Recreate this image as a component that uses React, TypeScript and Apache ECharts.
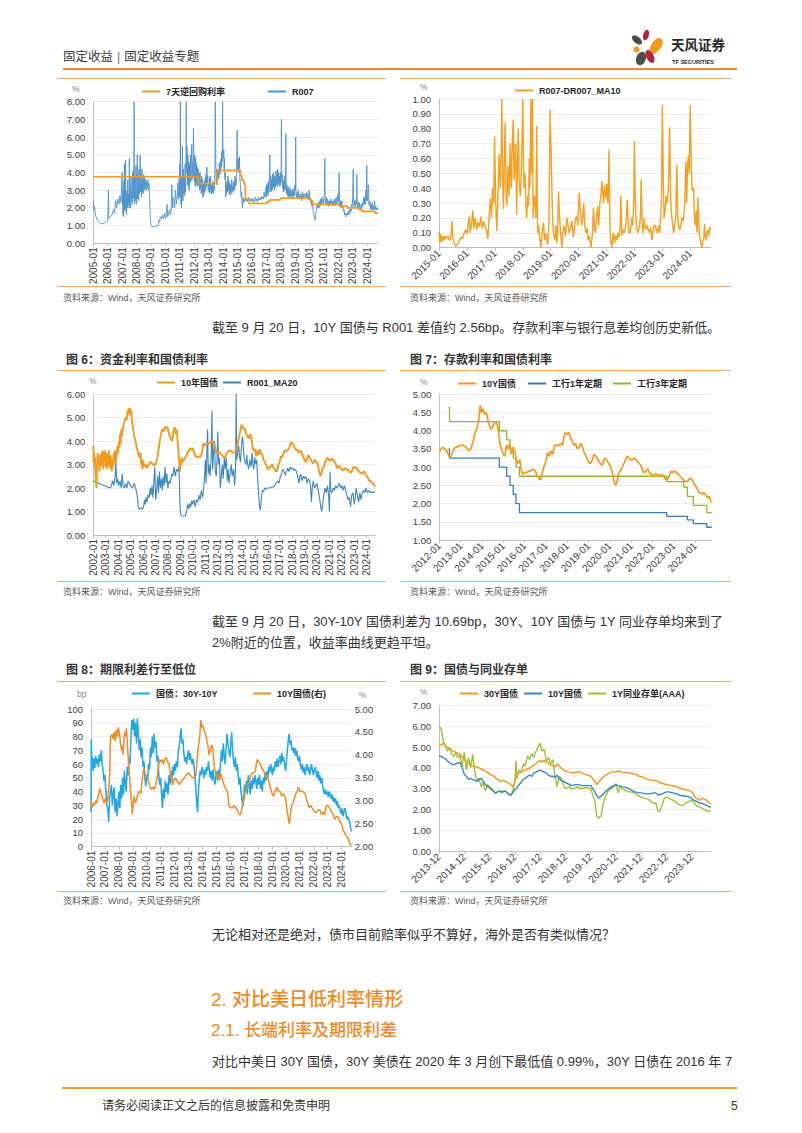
import React, { useEffect, useRef } from "react";
import * as echarts from "echarts";

const FONT = "'Liberation Sans', Arial, 'Noto Sans CJK SC', sans-serif";
const ORANGE = "#F39A1E";
const LINE_ORANGE = "#F2A460";

// ---------------- tick labels ----------------
const years = (a: number, b: number) => { const r: number[] = []; for (let y = a; y <= b; y++) r.push(y); return r; };
const YEARS_05 = years(2005, 2024);
const YEARS_15 = years(2015, 2024);
const YEARS_02 = years(2002, 2024);
const YEARS_12 = years(2012, 2024);
const YEARS_06 = years(2006, 2024);
const MONTHS_9 = [0, 12, 24, 36, 48, 60, 72, 84, 96, 108, 120]; // months since 2013-12

// ---------------- chart 1 ----------------
const revRepo7d = [[2005.0,3.76],[2012.3,3.37],[2013.6,4.12],[2015.2,3.85],[2015.3,3.55],[2015.45,3.35],[2015.55,2.5],[2015.8,2.25],[2017.07,2.35],[2017.25,2.45],[2018.0,2.55],[2019.9,2.5],[2020.1,2.4],[2020.22,2.2],[2022.05,2.1],[2022.62,2.0],[2023.45,1.9],[2023.65,1.8],[2024.55,1.7],[2024.75,1.7]];
const r007 = [[2005.0,2.4],[2005.03,1.9],[2005.08,2.1],[2005.15,1.6],[2005.25,1.35],[2005.35,1.25],[2005.45,1.15],[2005.6,1.1],[2005.75,1.15],[2005.9,1.2],[2006.0,1.25],[2006.05,3.0],[2006.08,1.4],[2006.18,1.5],[2006.3,1.6],[2006.4,1.9],[2006.48,1.7],[2006.55,2.4],[2006.62,2.0],[2006.7,2.5],[2006.78,2.2],[2006.85,2.7],[2006.92,2.3],
[2007.0,4.0],[2007.02,2.2],[2007.04,3.0],[2007.06,1.6],[2007.08,2.8],[2007.1,1.5],[2007.12,3.5],[2007.14,2.0],[2007.16,4.5],[2007.18,1.8],[2007.2,3.2],[2007.22,2.2],[2007.24,4.7],[2007.26,1.9],[2007.28,2.8],[2007.3,1.6],[2007.33,3.0],[2007.36,2.0],[2007.39,3.6],[2007.42,2.3],[2007.45,2.8],[2007.48,2.0],[2007.5,4.8],[2007.52,2.1],[2007.55,3.2],[2007.58,2.0],[2007.61,3.8],[2007.64,2.4],[2007.67,3.0],[2007.7,2.2],[2007.73,4.0],[2007.76,2.5],[2007.79,4.2],[2007.81,2.6],[2007.83,8.0],[2007.85,3.0],[2007.87,2.2],[2007.9,3.8],[2007.93,2.4],[2007.96,4.4],[2008.0,2.2],[2008.03,3.5],[2008.05,5.0],[2008.08,2.5],[2008.11,3.8],[2008.14,2.4],[2008.17,4.2],[2008.2,2.8],[2008.23,3.5],[2008.25,5.0],[2008.28,2.9],[2008.31,3.8],[2008.34,2.6],[2008.37,4.2],[2008.4,2.9],[2008.43,3.6],[2008.46,2.8],[2008.5,3.9],[2008.53,3.0],[2008.56,3.7],[2008.6,3.1],[2008.63,3.6],[2008.66,3.0],[2008.7,3.5],[2008.74,3.1],[2008.78,3.6],[2008.82,3.0],[2008.86,3.4],[2008.9,2.6],[2008.93,2.0],[2008.96,1.4],[2009.0,1.05],
[2009.05,0.95],[2009.15,0.95],[2009.25,0.93],[2009.4,0.98],[2009.5,1.0],[2009.55,1.3],[2009.6,1.2],[2009.65,1.5],[2009.72,1.4],[2009.8,1.6],[2009.85,1.4],[2009.88,1.5],[2009.95,1.7],[2010.0,1.4],[2010.05,1.5],[2010.12,2.2],[2010.16,1.5],[2010.2,1.6],[2010.25,1.8],[2010.3,1.9],[2010.34,1.6],[2010.38,1.7],[2010.42,2.4],[2010.45,3.3],[2010.48,2.2],[2010.5,2.0],[2010.54,2.6],[2010.58,2.5],[2010.62,2.0],[2010.65,2.1],[2010.69,3.0],[2010.72,2.8],[2010.76,2.2],[2010.8,2.4],[2010.84,3.0],[2010.87,3.4],[2010.9,2.5],
[2010.92,2.8],[2010.95,3.6],[2010.98,2.6],[2011.0,4.5],[2011.02,3.0],[2011.04,8.0],[2011.06,3.5],[2011.08,2.2],[2011.1,3.4],[2011.12,2.0],[2011.14,3.8],[2011.16,2.6],[2011.18,5.5],[2011.2,3.0],[2011.22,2.4],[2011.25,4.2],[2011.28,2.8],[2011.31,3.8],[2011.34,2.7],[2011.37,4.5],[2011.4,2.9],[2011.43,5.2],[2011.45,8.0],[2011.47,4.0],[2011.5,5.5],[2011.53,3.3],[2011.56,5.0],[2011.59,3.2],[2011.62,4.6],[2011.65,3.0],[2011.68,4.5],[2011.71,3.4],[2011.74,5.0],[2011.77,3.5],[2011.8,4.5],[2011.83,5.6],[2011.86,3.6],[2011.89,4.6],[2011.92,3.8],[2011.95,6.5],[2011.98,4.2],[2012.01,3.5],[2012.04,5.0],[2012.07,3.2],[2012.1,4.8],[2012.13,3.3],[2012.16,4.5],[2012.19,3.4],[2012.22,4.3],[2012.25,3.2],[2012.28,4.2],[2012.31,3.3],[2012.34,3.9],[2012.37,3.0],[2012.4,4.0],[2012.43,3.1],[2012.46,3.6],[2012.49,2.8],[2012.52,3.8],[2012.55,2.9],[2012.58,3.6],[2012.61,2.6],[2012.64,3.4],[2012.67,2.7],[2012.7,3.5],[2012.73,2.9],[2012.76,3.7],[2012.79,3.0],[2012.82,3.9],[2012.85,3.2],[2012.88,4.3],[2012.91,3.3],[2012.94,3.8],[2012.97,3.0],[2013.0,3.4],[2013.03,2.9],[2013.06,3.7],[2013.09,2.8],[2013.12,3.8],[2013.15,3.0],[2013.18,3.4],[2013.21,2.8],[2013.24,3.3],[2013.27,2.9],[2013.3,3.5],[2013.33,2.8],[2013.36,3.2],[2013.39,3.0],[2013.42,3.6],[2013.44,4.5],[2013.46,8.0],[2013.48,6.0],[2013.5,4.5],[2013.53,3.5],[2013.56,4.2],[2013.59,3.3],[2013.62,4.0],[2013.65,3.6],[2013.68,4.2],[2013.71,3.7],[2013.74,4.5],[2013.77,3.9],[2013.8,4.6],[2013.83,4.0],[2013.86,4.8],[2013.89,4.3],[2013.92,5.2],[2013.95,4.6],[2013.97,8.0],[2013.99,5.5],[2014.02,4.8],[2014.05,5.3],[2014.08,4.2],[2014.1,4.8],[2014.13,3.6],[2014.16,4.0],[2014.19,2.6],[2014.22,3.4],[2014.25,2.8],[2014.28,3.5],[2014.31,2.9],[2014.34,3.8],[2014.37,3.0],[2014.4,3.6],[2014.43,2.8],[2014.46,3.4],[2014.49,2.7],[2014.52,3.3],[2014.55,2.9],[2014.58,3.6],[2014.61,2.8],[2014.64,3.2],[2014.67,2.9],[2014.7,3.5],[2014.73,3.0],[2014.76,3.4],[2014.79,3.0],[2014.82,3.8],[2014.85,3.2],[2014.88,3.6],[2014.91,3.3],[2014.94,4.0],[2014.96,5.0],[2014.98,6.4],[2015.0,4.2],[2015.03,4.6],[2015.06,4.0],[2015.08,4.8],[2015.11,4.3],[2015.14,4.9],[2015.17,3.6],[2015.2,3.4],[2015.23,3.0],[2015.26,2.6],[2015.29,2.9],[2015.32,2.2],[2015.35,2.0],[2015.38,2.6],[2015.42,2.3],
[2015.46,2.5],[2015.5,2.35],[2015.55,2.55],[2015.6,2.4],[2015.65,2.5],[2015.7,2.35],[2015.75,2.6],[2015.8,2.45],[2015.85,2.55],[2015.9,2.4],[2015.95,2.5],[2016.0,2.35],[2016.05,2.55],[2016.1,2.4],[2016.15,2.3],[2016.2,2.5],[2016.25,2.6],[2016.3,2.4],[2016.35,2.5],[2016.4,2.35],[2016.45,2.6],[2016.5,2.45],[2016.55,2.55],[2016.6,2.45],[2016.65,2.65],[2016.7,2.5],[2016.75,2.6],[2016.8,2.5],[2016.85,2.9],[2016.9,2.6],
[2016.95,2.7],[2016.98,3.2],[2017.01,2.6],[2017.04,3.4],[2017.07,2.8],[2017.1,3.3],[2017.13,2.7],[2017.16,3.5],[2017.19,2.9],[2017.22,4.0],[2017.25,5.0],[2017.28,3.0],[2017.31,3.8],[2017.34,2.9],[2017.37,3.6],[2017.4,3.0],[2017.43,3.9],[2017.46,3.1],[2017.49,4.0],[2017.52,3.2],[2017.55,3.8],[2017.58,3.0],[2017.61,3.7],[2017.64,3.2],[2017.67,4.1],[2017.7,3.3],[2017.73,3.9],[2017.76,3.2],[2017.79,4.2],[2017.82,3.4],[2017.85,4.0],[2017.88,3.3],[2017.91,3.8],[2017.94,3.2],[2017.97,4.0],[2018.0,3.3],[2018.03,3.6],[2018.05,7.0],[2018.07,3.5],[2018.1,3.9],[2018.13,3.1],[2018.16,3.6],[2018.19,2.9],[2018.22,3.5],[2018.25,3.0],[2018.28,3.8],[2018.31,3.0],[2018.34,3.5],[2018.36,6.2],[2018.38,3.1],[2018.41,2.8],[2018.44,3.3],[2018.47,2.7],[2018.5,3.1],[2018.53,2.6],[2018.56,3.2],[2018.59,2.7],[2018.62,3.0],[2018.65,2.6],[2018.68,3.1],[2018.71,2.7],[2018.74,2.9],[2018.77,2.6],[2018.8,3.0],[2018.83,2.7],[2018.86,3.1],[2018.89,2.6],[2018.92,2.9],[2018.95,2.7],[2018.98,3.3],[2019.02,3.0],[2019.04,6.0],[2019.06,2.8],
[2019.1,2.6],[2019.14,2.9],[2019.18,2.5],[2019.22,3.0],[2019.26,2.6],[2019.3,2.5],[2019.34,2.8],[2019.38,2.5],[2019.42,2.7],[2019.45,2.4],[2019.49,2.9],[2019.52,2.5],[2019.56,2.8],[2019.6,2.5],[2019.64,2.7],[2019.68,2.8],[2019.72,2.5],[2019.75,2.6],[2019.79,2.9],[2019.82,2.6],[2019.86,2.8],[2019.9,2.5],[2019.94,2.7],[2019.97,3.0],[2020.01,2.5],[2020.04,2.6],[2020.08,2.3],[2020.12,2.4],[2020.16,2.1],[2020.2,2.2],[2020.25,1.8],[2020.3,1.6],[2020.34,1.4],[2020.38,1.3],[2020.42,1.6],[2020.46,1.8],[2020.5,2.0],[2020.54,2.2],[2020.58,2.0],[2020.62,2.3],[2020.66,2.0],[2020.7,2.4],[2020.74,2.1],[2020.78,2.5],[2020.82,2.2],[2020.86,2.6],[2020.9,2.2],[2020.94,2.5],[2020.98,2.3],[2021.02,2.8],[2021.06,4.8],[2021.09,2.5],[2021.13,2.2],[2021.17,2.6],[2021.21,2.2],[2021.25,2.5],[2021.29,2.1],[2021.33,2.4],[2021.37,2.1],[2021.41,2.4],[2021.45,2.2],[2021.49,2.5],[2021.53,2.2],[2021.57,2.4],[2021.61,2.1],[2021.65,2.4],[2021.69,2.2],[2021.73,2.5],[2021.77,2.1],[2021.81,2.4],[2021.85,2.6],[2021.89,2.2],[2021.93,2.5],[2021.97,2.8],[2022.01,2.3],[2022.05,4.0],[2022.08,2.3],[2022.12,2.1],[2022.16,2.4],[2022.2,2.0],[2022.24,2.4],[2022.28,2.0],[2022.32,2.1],[2022.36,1.8],[2022.4,1.9],[2022.44,1.6],[2022.48,1.7],[2022.52,1.5],[2022.56,1.6],[2022.6,1.7],[2022.64,1.6],[2022.68,1.8],[2022.72,1.6],[2022.76,1.9],[2022.8,1.7],[2022.84,2.0],[2022.88,1.8],[2022.92,2.2],[2022.96,2.0],[2022.99,2.5],[2023.03,4.2],[2023.06,2.3],[2023.1,2.1],[2023.14,2.4],[2023.18,2.0],[2023.22,2.5],[2023.26,2.2],[2023.28,3.9],[2023.31,2.2],[2023.35,2.0],[2023.39,2.3],[2023.43,1.9],[2023.47,2.3],[2023.51,2.0],[2023.55,1.9],[2023.59,2.2],[2023.63,2.0],[2023.67,2.3],[2023.71,2.1],[2023.75,2.6],[2023.79,2.2],[2023.83,2.6],[2023.87,2.2],[2023.91,3.0],[2023.94,2.4],[2023.97,4.4],[2024.0,2.4],[2024.04,2.6],[2024.08,3.3],[2024.12,2.2],[2024.16,2.1],[2024.2,2.4],[2024.24,1.9],[2024.28,2.2],[2024.32,1.9],[2024.36,2.3],[2024.4,1.9],[2024.44,2.1],[2024.48,1.9],[2024.52,2.4],[2024.56,1.9],[2024.6,2.1],[2024.64,1.9],[2024.68,2.0],[2024.72,1.9],[2024.75,2.0]];

// ---------------- chart 2 ----------------
const r007MinusDr007 = [[2015.0,0.11],[2015.03,0.03],[2015.07,0.09],[2015.1,0.04],[2015.14,0.08],[2015.18,0.05],[2015.22,0.08],[2015.27,0.06],[2015.32,0.08],[2015.37,0.05],[2015.42,0.06],[2015.46,0.18],[2015.5,0.06],[2015.55,0.03],[2015.6,0.01],[2015.66,0.02],[2015.72,0.04],[2015.78,0.07],[2015.84,0.06],[2015.9,0.1],[2015.96,0.12],[2016.0,0.09],[2016.04,0.15],[2016.08,0.21],[2016.12,0.1],[2016.17,0.17],[2016.21,0.25],[2016.25,0.13],[2016.3,0.2],[2016.35,0.12],[2016.4,0.17],[2016.45,0.14],[2016.5,0.21],[2016.55,0.13],[2016.6,0.18],[2016.65,0.14],[2016.7,0.12],[2016.75,0.06],[2016.8,0.22],[2016.84,0.33],[2016.88,0.2],[2016.92,0.4],[2016.96,0.3],[2016.99,0.75],[2017.03,0.3],[2017.07,0.11],[2017.11,0.35],[2017.15,0.63],[2017.19,0.4],[2017.23,0.65],[2017.25,1.0],[2017.28,0.45],[2017.31,0.26],[2017.34,0.6],[2017.37,0.84],[2017.4,0.4],[2017.43,0.28],[2017.47,0.55],[2017.51,0.35],[2017.55,0.7],[2017.59,0.4],[2017.63,0.75],[2017.66,0.86],[2017.69,0.45],[2017.72,0.6],[2017.75,0.7],[2017.78,0.22],[2017.81,0.55],[2017.84,0.8],[2017.87,0.45],[2017.91,0.35],[2017.95,0.5],[2017.98,0.78],[2018.0,1.0],[2018.03,0.55],[2018.05,0.4],[2018.08,0.5],[2018.11,0.3],[2018.14,0.2],[2018.18,0.35],[2018.21,0.28],[2018.23,0.6],[2018.26,0.4],[2018.29,1.0],[2018.32,0.5],[2018.35,1.0],[2018.37,0.2],[2018.41,0.35],[2018.44,0.3],[2018.47,0.2],[2018.5,0.82],[2018.53,0.1],[2018.57,0.15],[2018.61,0.05],[2018.65,0.0],[2018.69,0.1],[2018.74,0.17],[2018.78,0.05],[2018.82,0.1],[2018.86,0.05],[2018.9,0.02],[2018.94,0.2],[2018.98,0.93],[2019.02,0.6],[2019.06,0.25],[2019.1,0.1],[2019.15,0.05],[2019.19,0.15],[2019.22,0.03],[2019.25,0.1],[2019.28,0.38],[2019.32,0.2],[2019.36,0.08],[2019.4,0.0],[2019.44,0.1],[2019.48,0.15],[2019.53,0.08],[2019.58,0.2],[2019.62,0.15],[2019.66,0.1],[2019.71,0.13],[2019.76,0.18],[2019.81,0.07],[2019.86,0.15],[2019.9,0.2],[2019.93,0.21],[2019.97,0.15],[2020.02,0.37],[2020.06,0.25],[2020.11,0.15],[2020.15,0.2],[2020.18,0.3],[2020.22,0.15],[2020.26,0.1],[2020.3,0.13],[2020.34,0.05],[2020.38,0.08],[2020.41,0.04],[2020.45,0.0],[2020.47,0.0],[2020.5,0.12],[2020.53,0.27],[2020.57,0.12],[2020.6,0.1],[2020.64,0.2],[2020.68,0.28],[2020.72,0.15],[2020.76,0.3],[2020.8,0.35],[2020.83,0.45],[2020.86,0.38],[2020.89,0.3],[2020.93,0.42],[2020.97,0.33],[2021.01,0.43],[2021.05,0.3],[2021.09,0.66],[2021.12,0.15],[2021.15,0.05],[2021.19,0.0],[2021.22,0.08],[2021.25,0.1],[2021.29,0.03],[2021.33,0.08],[2021.37,0.05],[2021.41,0.1],[2021.45,0.07],[2021.49,0.15],[2021.51,0.35],[2021.55,0.08],[2021.59,0.12],[2021.63,0.1],[2021.67,0.12],[2021.71,0.2],[2021.74,0.32],[2021.78,0.15],[2021.81,0.1],[2021.85,0.1],[2021.9,0.2],[2021.94,0.15],[2021.97,0.3],[2022.0,0.72],[2022.03,0.3],[2022.05,0.2],[2022.09,0.12],[2022.13,0.1],[2022.18,0.15],[2022.21,0.2],[2022.24,0.46],[2022.27,0.15],[2022.31,0.1],[2022.35,0.2],[2022.38,0.14],[2022.42,0.12],[2022.46,0.15],[2022.5,0.12],[2022.54,0.1],[2022.58,0.14],[2022.62,0.05],[2022.66,0.1],[2022.7,0.15],[2022.74,0.15],[2022.78,0.12],[2022.82,0.1],[2022.86,0.15],[2022.9,0.1],[2022.94,0.2],[2022.97,0.35],[2023.0,0.96],[2023.03,0.5],[2023.06,0.2],[2023.1,0.25],[2023.13,0.35],[2023.16,0.3],[2023.2,0.35],[2023.23,0.5],[2023.26,0.81],[2023.3,0.3],[2023.34,0.2],[2023.37,0.15],[2023.4,0.1],[2023.44,0.15],[2023.48,0.2],[2023.52,0.56],[2023.55,0.2],[2023.58,0.15],[2023.62,0.12],[2023.66,0.15],[2023.7,0.2],[2023.74,0.18],[2023.77,0.22],[2023.8,0.3],[2023.84,0.58],[2023.87,0.3],[2023.9,0.55],[2023.93,0.62],[2023.96,0.5],[2024.0,0.96],[2024.03,0.6],[2024.06,0.4],[2024.09,0.38],[2024.12,0.4],[2024.15,0.2],[2024.18,0.15],[2024.21,0.25],[2024.24,0.1],[2024.27,0.34],[2024.3,0.15],[2024.33,0.08],[2024.36,0.05],[2024.39,0.02],[2024.42,0.0],[2024.45,0.05],[2024.48,0.05],[2024.51,0.16],[2024.54,0.08],[2024.57,0.05],[2024.6,0.1],[2024.63,0.12],[2024.66,0.08],[2024.7,0.14],[2024.73,0.12]];

// ---------------- chart 6 ----------------
const cgb10y_6 = [[2002.0,3.8],[2002.03,3.1],[2002.07,3.5],[2002.1,2.9],[2002.14,3.3],[2002.18,2.5],[2002.22,2.2],[2002.26,2.0],[2002.3,2.9],[2002.35,3.5],[2002.4,3.0],[2002.45,3.3],[2002.5,2.7],[2002.55,3.4],[2002.6,2.9],[2002.65,3.5],[2002.7,3.0],[2002.75,3.6],[2002.8,2.8],[2002.85,3.5],[2002.9,3.1],[2002.95,3.6],[2003.0,2.9],[2003.05,3.5],[2003.1,2.8],[2003.15,3.4],[2003.2,3.0],[2003.25,3.6],[2003.3,2.9],[2003.35,3.4],[2003.4,2.8],[2003.45,3.3],[2003.5,2.7],[2003.55,3.2],[2003.6,2.9],[2003.65,3.5],[2003.7,3.1],[2003.75,3.6],[2003.8,3.0],[2003.85,3.5],[2003.9,3.4],[2003.95,3.8],[2004.0,3.5],[2004.05,4.0],[2004.1,3.7],[2004.15,4.3],[2004.2,3.9],[2004.25,4.5],[2004.3,4.2],[2004.4,4.6],[2004.5,4.8],[2004.6,5.0],[2004.7,4.9],[2004.75,5.3],[2004.8,5.1],[2004.85,5.4],[2004.9,5.2],[2004.95,5.4],[2005.0,5.1],[2005.05,5.3],[2005.1,4.9],[2005.2,4.5],[2005.3,4.2],[2005.4,4.0],[2005.5,3.7],[2005.6,3.5],[2005.7,3.3],[2005.8,3.5],[2005.85,3.0],[2005.9,3.2],[2005.95,2.8],[2006.0,3.2],[2006.1,2.9],[2006.2,3.0],[2006.3,2.85],[2006.45,3.0],[2006.6,3.1],[2006.75,3.05],[2006.9,2.95],[2007.05,3.05],[2007.15,3.3],[2007.25,3.6],[2007.35,4.0],[2007.45,4.3],[2007.55,4.5],[2007.65,4.4],[2007.75,4.6],[2007.85,4.55],[2007.95,4.6],[2008.05,4.4],[2008.15,4.2],[2008.25,4.1],[2008.35,4.0],[2008.45,4.4],[2008.55,4.6],[2008.65,4.3],[2008.72,4.5],[2008.78,4.0],[2008.85,3.5],[2008.92,3.1],[2008.97,2.7],[2009.03,3.0],[2009.1,3.3],[2009.2,3.1],[2009.3,3.2],[2009.4,3.3],[2009.5,3.4],[2009.6,3.5],[2009.7,3.6],[2009.8,3.7],[2009.9,3.6],[2010.0,3.7],[2010.1,3.55],[2010.2,3.4],[2010.3,3.3],[2010.45,3.35],[2010.6,3.3],[2010.75,3.5],[2010.85,3.9],[2010.95,3.8],[2011.1,3.9],[2011.25,3.85],[2011.4,3.95],[2011.55,4.0],[2011.65,3.9],[2011.75,3.85],[2011.85,3.6],[2011.95,3.45],[2012.05,3.55],[2012.2,3.5],[2012.35,3.4],[2012.5,3.3],[2012.6,3.3],[2012.7,3.45],[2012.85,3.55],[2013.0,3.6],[2013.15,3.55],[2013.3,3.5],[2013.45,3.5],[2013.55,3.65],[2013.65,4.0],[2013.75,4.2],[2013.85,4.5],[2013.92,4.7],[2014.0,4.6],[2014.1,4.5],[2014.2,4.55],[2014.3,4.3],[2014.4,4.2],[2014.5,4.1],[2014.6,4.3],[2014.7,4.2],[2014.8,3.8],[2014.9,3.6],[2015.0,3.65],[2015.1,3.35],[2015.2,3.6],[2015.3,3.4],[2015.4,3.65],[2015.5,3.5],[2015.6,3.4],[2015.7,3.2],[2015.8,3.1],[2015.9,3.0],[2016.0,2.85],[2016.1,2.8],[2016.2,2.9],[2016.3,2.9],[2016.4,3.0],[2016.5,2.85],[2016.6,2.8],[2016.7,2.7],[2016.8,2.75],[2016.9,3.0],[2017.0,3.1],[2017.1,3.35],[2017.2,3.3],[2017.3,3.45],[2017.4,3.6],[2017.5,3.55],[2017.6,3.6],[2017.7,3.65],[2017.8,3.75],[2017.9,3.95],[2018.0,3.9],[2018.1,3.85],[2018.2,3.7],[2018.3,3.6],[2018.4,3.65],[2018.5,3.5],[2018.6,3.55],[2018.7,3.6],[2018.8,3.45],[2018.9,3.3],[2019.0,3.2],[2019.1,3.1],[2019.2,3.25],[2019.3,3.4],[2019.4,3.3],[2019.5,3.2],[2019.6,3.1],[2019.7,3.05],[2019.8,3.2],[2019.9,3.15],[2020.0,3.1],[2020.1,2.9],[2020.2,2.65],[2020.28,2.5],[2020.35,2.6],[2020.45,2.85],[2020.55,2.9],[2020.65,3.1],[2020.75,3.2],[2020.85,3.3],[2020.95,3.2],[2021.05,3.15],[2021.15,3.25],[2021.3,3.2],[2021.4,3.1],[2021.5,3.05],[2021.6,2.85],[2021.7,2.9],[2021.8,2.95],[2021.9,2.85],[2022.0,2.8],[2022.1,2.75],[2022.2,2.8],[2022.3,2.85],[2022.4,2.75],[2022.5,2.8],[2022.6,2.7],[2022.7,2.65],[2022.8,2.7],[2022.9,2.9],[2023.0,2.85],[2023.1,2.9],[2023.2,2.85],[2023.3,2.75],[2023.4,2.7],[2023.5,2.65],[2023.6,2.6],[2023.7,2.65],[2023.8,2.7],[2023.9,2.6],[2024.0,2.5],[2024.1,2.45],[2024.2,2.3],[2024.3,2.3],[2024.4,2.25],[2024.5,2.2],[2024.6,2.15],[2024.67,2.05]];
const r001Ma20 = [[2002.0,2.3],[2003.35,2.0],[2003.45,2.1],[2003.55,2.3],[2003.65,2.1],[2003.75,2.5],[2003.82,3.1],[2003.88,2.2],[2003.95,2.4],[2004.05,2.1],[2004.15,2.3],[2004.25,2.0],[2004.32,2.6],[2004.4,2.1],[2004.5,2.0],[2004.6,2.2],[2004.7,2.0],[2004.8,2.3],[2004.9,2.2],[2005.0,2.1],[2005.15,2.0],[2005.3,2.2],[2005.45,1.9],[2005.55,1.6],[2005.62,1.2],[2005.72,1.1],[2005.85,1.15],[2005.95,1.1],[2006.05,1.2],[2006.12,1.5],[2006.18,1.3],[2006.25,1.6],[2006.32,1.4],[2006.4,1.7],[2006.5,1.6],[2006.58,2.0],[2006.65,1.7],[2006.72,2.1],[2006.8,1.6],[2006.88,2.3],[2006.95,2.9],[2007.02,1.5],[2007.1,1.9],[2007.18,2.5],[2007.25,1.8],[2007.32,2.7],[2007.4,2.0],[2007.48,2.4],[2007.55,1.9],[2007.62,2.5],[2007.7,2.1],[2007.78,2.9],[2007.85,2.2],[2007.92,2.6],[2008.0,2.0],[2008.1,2.3],[2008.2,2.2],[2008.3,2.6],[2008.4,2.5],[2008.5,2.9],[2008.6,2.5],[2008.7,2.8],[2008.8,2.7],[2008.88,2.9],[2008.93,2.3],[2008.97,1.3],[2009.02,0.9],[2009.1,0.82],[2009.25,0.8],[2009.4,0.82],[2009.5,1.0],[2009.6,1.3],[2009.68,1.1],[2009.76,1.35],[2009.85,1.2],[2009.93,1.45],[2010.0,1.3],[2010.1,1.5],[2010.2,1.2],[2010.3,1.5],[2010.4,1.4],[2010.5,1.7],[2010.6,1.5],[2010.7,1.9],[2010.8,1.6],[2010.88,2.0],[2010.95,2.4],[2011.02,3.2],[2011.08,2.2],[2011.15,3.8],[2011.2,4.5],[2011.25,2.6],[2011.32,3.0],[2011.4,2.5],[2011.48,3.3],[2011.55,5.3],[2011.6,2.8],[2011.68,3.5],[2011.75,4.0],[2011.82,2.7],[2011.9,2.5],[2011.95,3.2],[2012.02,4.4],[2012.08,3.0],[2012.15,3.3],[2012.22,2.0],[2012.3,2.5],[2012.38,3.0],[2012.45,2.4],[2012.55,3.3],[2012.62,2.8],[2012.7,3.3],[2012.78,2.3],[2012.85,2.8],[2012.92,2.2],[2013.0,2.6],[2013.1,3.0],[2013.18,2.5],[2013.28,2.8],[2013.38,2.1],[2013.45,3.0],[2013.5,6.0],[2013.55,3.2],[2013.62,3.5],[2013.7,3.8],[2013.78,3.3],[2013.85,3.1],[2013.92,3.8],[2014.0,4.2],[2014.05,3.9],[2014.12,3.4],[2014.2,3.1],[2014.28,3.0],[2014.35,3.4],[2014.42,3.0],[2014.5,2.8],[2014.6,3.2],[2014.7,2.9],[2014.78,3.5],[2014.85,3.0],[2014.92,2.8],[2015.0,3.3],[2015.08,3.0],[2015.15,3.2],[2015.22,2.5],[2015.3,1.8],[2015.38,1.2],[2015.45,1.05],[2015.52,1.5],[2015.6,1.9],[2015.7,1.85],[2015.8,2.0],[2015.9,1.95],[2016.0,2.0],[2016.2,2.0],[2016.4,2.05],[2016.55,2.05],[2016.7,2.2],[2016.85,2.3],[2016.95,2.2],[2017.05,2.5],[2017.15,2.6],[2017.25,2.8],[2017.35,2.7],[2017.45,2.55],[2017.55,2.7],[2017.65,2.85],[2017.75,2.7],[2017.85,2.9],[2017.95,2.8],[2018.05,2.85],[2018.15,2.75],[2018.25,2.8],[2018.35,2.7],[2018.45,2.5],[2018.55,2.2],[2018.62,2.5],[2018.7,2.6],[2018.8,2.3],[2018.9,2.5],[2019.0,2.4],[2019.1,2.5],[2019.2,2.2],[2019.3,2.4],[2019.4,2.3],[2019.48,2.1],[2019.55,1.4],[2019.62,2.0],[2019.7,2.3],[2019.8,2.0],[2019.9,2.1],[2020.0,2.2],[2020.1,1.9],[2020.2,1.6],[2020.3,1.2],[2020.38,1.0],[2020.45,1.3],[2020.55,1.7],[2020.65,2.0],[2020.75,1.8],[2020.85,2.1],[2020.95,1.6],[2021.0,1.0],[2021.05,2.7],[2021.1,1.9],[2021.2,1.8],[2021.3,2.0],[2021.4,1.9],[2021.5,2.1],[2021.6,2.0],[2021.7,2.1],[2021.8,2.2],[2021.9,2.0],[2022.0,2.1],[2022.1,1.9],[2022.2,2.1],[2022.3,1.9],[2022.4,1.7],[2022.5,1.5],[2022.6,1.6],[2022.7,1.2],[2022.8,1.7],[2022.9,1.8],[2023.0,1.3],[2023.08,1.6],[2023.15,2.0],[2023.25,1.7],[2023.35,1.4],[2023.45,1.8],[2023.55,1.5],[2023.65,1.8],[2023.75,1.9],[2023.85,1.8],[2023.95,2.0],[2024.05,1.8],[2024.15,1.9],[2024.25,1.8],[2024.35,1.85],[2024.45,1.8],[2024.55,1.85],[2024.67,1.8]];

// ---------------- chart 7 ----------------
const cgb10y_7 = [[2012.0,3.4],[2012.08,3.5],[2012.16,3.55],[2012.25,3.5],[2012.35,3.45],[2012.45,3.3],[2012.55,3.3],[2012.65,3.45],[2012.75,3.55],[2012.85,3.55],[2012.95,3.6],[2013.1,3.6],[2013.25,3.55],[2013.38,3.45],[2013.48,3.5],[2013.58,3.7],[2013.68,3.95],[2013.78,4.1],[2013.85,4.3],[2013.92,4.7],[2013.98,4.5],[2014.05,4.6],[2014.12,4.45],[2014.2,4.5],[2014.28,4.3],[2014.35,4.15],[2014.42,4.05],[2014.5,4.1],[2014.58,4.2],[2014.66,4.25],[2014.74,4.1],[2014.8,3.85],[2014.86,3.6],[2014.92,3.5],[2015.0,3.35],[2015.08,3.3],[2015.15,3.6],[2015.22,3.5],[2015.3,3.65],[2015.38,3.35],[2015.46,3.55],[2015.55,3.4],[2015.62,3.2],[2015.7,3.1],[2015.78,3.2],[2015.85,2.9],[2015.92,2.8],[2016.0,2.85],[2016.1,2.85],[2016.2,2.9],[2016.3,2.9],[2016.4,2.95],[2016.5,2.9],[2016.6,2.75],[2016.68,2.7],[2016.76,2.65],[2016.85,2.9],[2016.93,3.05],[2017.0,3.15],[2017.08,3.4],[2017.16,3.3],[2017.24,3.45],[2017.32,3.35],[2017.4,3.6],[2017.5,3.6],[2017.6,3.6],[2017.7,3.65],[2017.78,3.6],[2017.85,3.85],[2017.92,3.95],[2018.0,3.9],[2018.08,3.95],[2018.16,3.8],[2018.24,3.7],[2018.32,3.6],[2018.4,3.65],[2018.48,3.5],[2018.56,3.55],[2018.64,3.65],[2018.72,3.55],[2018.8,3.4],[2018.88,3.3],[2018.96,3.2],[2019.05,3.1],[2019.15,3.15],[2019.25,3.35],[2019.35,3.3],[2019.45,3.2],[2019.55,3.1],[2019.65,3.05],[2019.75,3.25],[2019.85,3.2],[2019.95,3.1],[2020.05,3.0],[2020.12,2.85],[2020.2,2.6],[2020.27,2.5],[2020.34,2.6],[2020.42,2.85],[2020.5,2.9],[2020.58,3.0],[2020.66,3.1],[2020.74,3.2],[2020.82,3.3],[2020.9,3.25],[2020.98,3.2],[2021.06,3.2],[2021.14,3.25],[2021.22,3.2],[2021.3,3.15],[2021.38,3.1],[2021.46,3.05],[2021.54,2.9],[2021.62,2.85],[2021.7,2.9],[2021.78,2.95],[2021.86,2.85],[2021.94,2.8],[2022.02,2.75],[2022.1,2.8],[2022.18,2.8],[2022.26,2.8],[2022.34,2.75],[2022.42,2.8],[2022.5,2.75],[2022.58,2.7],[2022.66,2.65],[2022.74,2.7],[2022.82,2.8],[2022.9,2.9],[2022.98,2.85],[2023.06,2.9],[2023.14,2.85],[2023.22,2.8],[2023.3,2.75],[2023.38,2.7],[2023.46,2.65],[2023.54,2.6],[2023.62,2.6],[2023.7,2.65],[2023.78,2.7],[2023.86,2.65],[2023.94,2.55],[2024.02,2.5],[2024.1,2.4],[2024.18,2.3],[2024.26,2.3],[2024.34,2.25],[2024.42,2.3],[2024.5,2.25],[2024.58,2.15],[2024.66,2.2],[2024.74,2.05],[2024.78,2.05]];
const icbc1y = [[2012.43,3.5],[2012.48,3.25],[2014.82,3.0],[2015.16,2.75],[2015.32,2.5],[2015.47,2.25],[2015.6,2.0],[2015.76,1.75],[2022.67,1.65],[2023.64,1.55],[2023.92,1.45],[2024.55,1.35],[2024.78,1.35]];
const icbc3y = [[2012.43,4.65],[2012.48,4.25],[2014.82,4.0],[2015.16,3.75],[2015.32,3.5],[2015.47,3.25],[2015.6,3.0],[2015.76,2.75],[2022.67,2.6],[2023.46,2.45],[2023.64,2.2],[2023.92,1.95],[2024.55,1.75],[2024.78,1.75]];

// ---------------- chart 8 ----------------
const spread30y10y = [[2006.0,25],[2006.02,78],[2006.06,58],[2006.1,65],[2006.15,55],[2006.2,64],[2006.27,57],[2006.34,66],[2006.4,60],[2006.47,64],[2006.54,58],[2006.6,67],[2006.67,62],[2006.74,70],[2006.8,60],[2006.87,55],[2006.93,48],[2007.0,52],[2007.07,40],[2007.13,30],[2007.2,28],[2007.27,18],[2007.33,35],[2007.4,40],[2007.47,45],[2007.53,30],[2007.6,38],[2007.67,43],[2007.73,25],[2007.8,35],[2007.87,22],[2007.93,30],[2008.0,40],[2008.07,28],[2008.13,45],[2008.2,35],[2008.27,50],[2008.33,38],[2008.4,55],[2008.47,45],[2008.53,40],[2008.6,58],[2008.67,52],[2008.73,65],[2008.8,60],[2008.87,80],[2008.93,92],[2009.0,85],[2009.07,93],[2009.13,80],[2009.2,90],[2009.27,75],[2009.33,93],[2009.4,82],[2009.47,70],[2009.53,78],[2009.6,65],[2009.67,72],[2009.73,58],[2009.8,62],[2009.87,50],[2009.93,44],[2010.0,52],[2010.07,48],[2010.13,60],[2010.2,56],[2010.27,72],[2010.33,65],[2010.4,80],[2010.47,68],[2010.53,82],[2010.6,72],[2010.67,76],[2010.73,62],[2010.8,66],[2010.87,52],[2010.93,45],[2011.0,50],[2011.07,38],[2011.13,28],[2011.2,42],[2011.27,35],[2011.33,48],[2011.4,40],[2011.47,46],[2011.53,38],[2011.6,52],[2011.67,45],[2011.73,55],[2011.8,48],[2011.87,58],[2011.93,52],[2012.0,60],[2012.07,55],[2012.13,62],[2012.2,58],[2012.27,70],[2012.33,72],[2012.4,80],[2012.47,86],[2012.53,75],[2012.6,78],[2012.67,68],[2012.73,62],[2012.8,65],[2012.87,60],[2012.93,66],[2013.0,70],[2013.07,63],[2013.13,68],[2013.2,62],[2013.27,60],[2013.33,64],[2013.4,58],[2013.47,50],[2013.53,42],[2013.6,30],[2013.65,25],[2013.7,38],[2013.77,48],[2013.83,55],[2013.9,52],[2013.97,58],[2014.03,55],[2014.1,50],[2014.17,56],[2014.23,52],[2014.3,58],[2014.37,55],[2014.43,62],[2014.5,56],[2014.57,50],[2014.63,55],[2014.7,48],[2014.77,56],[2014.83,50],[2014.9,45],[2014.97,52],[2015.03,55],[2015.1,48],[2015.17,56],[2015.23,52],[2015.3,60],[2015.37,70],[2015.43,62],[2015.5,75],[2015.57,65],[2015.63,60],[2015.7,72],[2015.77,82],[2015.83,75],[2015.9,70],[2015.97,65],[2016.03,72],[2016.1,83],[2016.17,70],[2016.23,62],[2016.3,58],[2016.37,65],[2016.43,55],[2016.5,60],[2016.57,52],[2016.63,45],[2016.7,50],[2016.77,40],[2016.83,35],[2016.9,29],[2016.97,38],[2017.03,45],[2017.1,40],[2017.17,48],[2017.23,38],[2017.3,52],[2017.37,45],[2017.43,38],[2017.5,48],[2017.57,42],[2017.63,50],[2017.7,45],[2017.77,52],[2017.83,48],[2017.9,42],[2017.97,50],[2018.03,45],[2018.1,52],[2018.17,42],[2018.23,48],[2018.3,40],[2018.37,50],[2018.43,46],[2018.5,54],[2018.57,48],[2018.63,55],[2018.7,50],[2018.77,58],[2018.83,54],[2018.9,60],[2018.97,56],[2019.03,52],[2019.1,58],[2019.17,55],[2019.23,62],[2019.3,58],[2019.37,64],[2019.43,58],[2019.5,62],[2019.57,66],[2019.63,60],[2019.7,68],[2019.77,62],[2019.83,65],[2019.9,60],[2019.97,55],[2020.03,62],[2020.1,70],[2020.17,78],[2020.23,82],[2020.3,74],[2020.37,77],[2020.43,70],[2020.5,72],[2020.57,68],[2020.63,72],[2020.7,66],[2020.77,70],[2020.83,64],[2020.9,62],[2020.97,66],[2021.03,60],[2021.1,56],[2021.17,60],[2021.23,54],[2021.3,58],[2021.37,52],[2021.43,56],[2021.5,60],[2021.57,55],[2021.63,58],[2021.7,52],[2021.77,56],[2021.83,60],[2021.9,56],[2021.97,52],[2022.03,55],[2022.1,58],[2022.17,54],[2022.23,50],[2022.3,55],[2022.37,48],[2022.43,52],[2022.5,46],[2022.57,50],[2022.63,45],[2022.7,40],[2022.77,38],[2022.83,42],[2022.9,38],[2022.97,40],[2023.03,36],[2023.1,40],[2023.17,38],[2023.23,35],[2023.3,38],[2023.37,33],[2023.43,36],[2023.5,32],[2023.57,35],[2023.63,30],[2023.7,33],[2023.77,28],[2023.83,30],[2023.9,26],[2023.97,24],[2024.03,28],[2024.1,22],[2024.17,26],[2024.23,28],[2024.3,24],[2024.37,20],[2024.43,22],[2024.5,20],[2024.57,18],[2024.63,14],[2024.7,11]];
const cgb10y_8 = [[2006.0,3.0],[2006.08,2.85],[2006.17,2.95],[2006.25,2.9],[2006.33,3.0],[2006.42,2.95],[2006.5,3.1],[2006.58,3.2],[2006.64,3.27],[2006.72,3.15],[2006.8,3.1],[2006.88,3.0],[2006.95,2.95],[2007.02,3.05],[2007.1,2.95],[2007.18,3.0],[2007.25,3.2],[2007.3,3.4],[2007.35,3.6],[2007.38,4.2],[2007.42,4.4],[2007.5,4.45],[2007.58,4.35],[2007.66,4.5],[2007.74,4.3],[2007.83,4.55],[2007.9,4.4],[2007.97,4.6],[2008.05,4.45],[2008.12,4.25],[2008.19,4.1],[2008.25,4.2],[2008.3,4.0],[2008.36,4.3],[2008.42,4.5],[2008.48,4.4],[2008.54,4.58],[2008.6,4.3],[2008.66,4.0],[2008.72,3.7],[2008.78,3.5],[2008.84,3.2],[2008.9,3.0],[2008.97,2.7],[2009.03,2.95],[2009.1,3.1],[2009.18,2.95],[2009.25,3.0],[2009.33,3.1],[2009.42,3.2],[2009.5,3.2],[2009.58,3.15],[2009.66,3.4],[2009.73,3.6],[2009.8,3.7],[2009.87,3.6],[2009.95,3.55],[2010.05,3.5],[2010.15,3.4],[2010.25,3.3],[2010.35,3.25],[2010.45,3.3],[2010.55,3.25],[2010.65,3.35],[2010.75,3.5],[2010.85,3.75],[2010.92,3.9],[2011.0,3.85],[2011.1,3.9],[2011.2,3.8],[2011.3,3.9],[2011.4,3.95],[2011.5,3.85],[2011.6,3.8],[2011.7,3.6],[2011.8,3.45],[2011.87,3.35],[2011.95,3.45],[2012.05,3.5],[2012.15,3.45],[2012.25,3.4],[2012.34,3.35],[2012.45,3.4],[2012.58,3.45],[2012.7,3.5],[2012.82,3.55],[2012.95,3.6],[2013.05,3.6],[2013.15,3.55],[2013.3,3.5],[2013.42,3.5],[2013.53,3.55],[2013.6,3.8],[2013.65,4.0],[2013.72,4.2],[2013.77,4.3],[2013.83,4.5],[2013.89,4.76],[2013.95,4.6],[2014.02,4.65],[2014.1,4.55],[2014.17,4.5],[2014.24,4.45],[2014.32,4.3],[2014.4,4.2],[2014.48,4.0],[2014.56,4.1],[2014.64,4.2],[2014.72,4.2],[2014.8,3.9],[2014.88,3.7],[2014.95,3.6],[2015.05,3.5],[2015.15,3.6],[2015.22,3.45],[2015.3,3.6],[2015.4,3.5],[2015.5,3.4],[2015.6,3.3],[2015.7,3.25],[2015.8,3.2],[2015.9,2.9],[2016.0,2.85],[2016.14,2.85],[2016.28,2.9],[2016.42,2.85],[2016.57,2.75],[2016.66,2.7],[2016.74,2.7],[2016.85,2.85],[2016.97,3.0],[2017.08,3.2],[2017.2,3.3],[2017.32,3.4],[2017.45,3.5],[2017.55,3.6],[2017.68,3.6],[2017.8,3.65],[2017.92,3.9],[2018.04,3.85],[2018.16,3.8],[2018.28,3.7],[2018.38,3.65],[2018.47,3.6],[2018.55,3.5],[2018.64,3.55],[2018.75,3.45],[2018.87,3.3],[2019.0,3.15],[2019.1,3.1],[2019.22,3.2],[2019.35,3.3],[2019.47,3.2],[2019.59,3.2],[2019.7,3.1],[2019.82,3.15],[2019.92,3.1],[2020.0,3.0],[2020.07,2.8],[2020.13,2.7],[2020.2,2.55],[2020.25,2.5],[2020.32,2.7],[2020.4,2.9],[2020.5,2.95],[2020.6,3.05],[2020.7,3.15],[2020.8,3.2],[2020.9,3.3],[2021.0,3.2],[2021.13,3.2],[2021.25,3.2],[2021.37,3.15],[2021.47,3.05],[2021.56,2.95],[2021.66,2.85],[2021.76,2.9],[2021.86,2.85],[2021.96,2.8],[2022.08,2.75],[2022.2,2.75],[2022.32,2.8],[2022.44,2.8],[2022.55,2.7],[2022.67,2.75],[2022.78,2.7],[2022.9,2.9],[2023.0,2.9],[2023.1,2.85],[2023.2,2.8],[2023.3,2.75],[2023.4,2.7],[2023.5,2.6],[2023.62,2.65],[2023.74,2.65],[2023.86,2.55],[2023.98,2.5],[2024.06,2.4],[2024.14,2.35],[2024.22,2.3],[2024.3,2.25],[2024.38,2.2],[2024.46,2.2],[2024.54,2.1],[2024.62,2.05],[2024.7,2.03]];

// ---------------- chart 9 (x = months since 2013-12) ----------------
const cgb30y_9 = [[0,5.15],[1,5.1],[2,5.2],[3,5.05],[4,5.0],[5,4.95],[6,4.85],[7,4.8],[8,4.75],[9,4.7],[10,4.65],[11,4.55],[12,4.4],[13,4.3],[14,4.2],[15,4.15],[16,4.1],[18,4.05],[20,3.95],[21,3.9],[22,3.85],[23,3.8],[24,3.7],[25,3.65],[26,3.6],[27,3.5],[28,3.45],[29,3.35],[30,3.4],[31,3.4],[32,3.3],[33,3.3],[34,3.2],[35,3.1],[36,3.3],[37,3.7],[38,3.75],[39,3.8],[40,3.85],[41,3.9],[42,3.95],[43,4.0],[44,4.05],[45,4.15],[46,4.2],[47,4.3],[48,4.35],[49,4.3],[50,4.35],[51,4.3],[52,4.2],[53,4.15],[54,4.1],[55,4.05],[56,4.2],[57,4.1],[58,4.0],[59,3.9],[60,3.85],[62,3.8],[64,3.75],[65,3.8],[67,3.8],[69,3.7],[71,3.65],[72,3.6],[73,3.5],[74,3.35],[75,3.2],[76,3.35],[77,3.45],[78,3.55],[79,3.65],[80,3.7],[82,3.8],[84,3.82],[85,3.85],[87,3.8],[89,3.78],[91,3.75],[93,3.7],[95,3.6],[97,3.55],[99,3.45],[101,3.4],[103,3.38],[104,3.35],[106,3.25],[108,3.2],[110,3.15],[112,3.12],[113,3.1],[115,3.0],[117,2.95],[119,2.9],[120,2.85],[121,2.7],[122,2.55],[123,2.5],[124,2.45],[125,2.55],[126,2.5],[127,2.45],[128,2.35],[129,2.25]];
const cgb10y_9 = [[0,4.6],[1,4.55],[2,4.5],[3,4.45],[4,4.35],[5,4.25],[6,4.2],[7,4.15],[8,4.2],[9,4.25],[10,4.25],[11,4.0],[12,3.7],[13,3.6],[14,3.45],[15,3.5],[16,3.45],[17,3.4],[18,3.35],[19,3.45],[20,3.5],[21,3.35],[22,3.2],[23,3.1],[24,3.05],[25,2.95],[26,2.85],[27,2.8],[28,2.85],[29,2.9],[30,2.85],[31,2.9],[32,2.85],[33,2.75],[34,2.7],[35,2.8],[36,2.95],[37,3.05],[38,3.2],[39,3.3],[40,3.45],[41,3.5],[42,3.6],[43,3.65],[44,3.6],[45,3.75],[46,3.8],[47,3.85],[48,3.9],[49,3.85],[50,3.8],[51,3.75],[52,3.65],[53,3.6],[54,3.6],[55,3.55],[56,3.65],[57,3.5],[58,3.4],[59,3.35],[60,3.3],[62,3.2],[63,3.15],[65,3.2],[66,3.2],[68,3.15],[70,3.15],[72,3.15],[73,3.0],[74,2.85],[75,2.65],[76,2.55],[77,2.65],[78,2.75],[79,2.85],[80,2.95],[82,3.1],[84,3.2],[85,3.15],[87,3.1],[89,3.05],[90,3.0],[92,2.9],[93,2.85],[95,2.8],[96,2.8],[98,2.75],[100,2.75],[102,2.8],[103,2.8],[104,2.7],[106,2.75],[108,2.85],[109,2.85],[111,2.8],[113,2.75],[114,2.7],[116,2.65],[117,2.65],[119,2.6],[120,2.55],[121,2.45],[122,2.4],[123,2.35],[124,2.3],[125,2.3],[126,2.25],[127,2.2],[128,2.15],[129,2.1]];
const ncd1y_9 = [[0,6.0],[1,5.9],[2,5.3],[3,5.1],[4,4.8],[5,5.0],[6,4.7],[7,4.55],[8,4.75],[9,4.5],[10,4.6],[11,4.1],[12,4.75],[13,3.9],[14,4.5],[15,4.0],[16,4.65],[17,3.8],[18,3.4],[19,3.5],[20,3.1],[21,3.3],[22,2.9],[23,3.2],[24,3.1],[25,3.0],[26,2.9],[27,2.75],[28,2.9],[29,2.85],[30,2.8],[31,2.9],[32,2.85],[33,2.75],[34,2.65],[35,2.9],[36,3.3],[36.5,4.35],[37,3.5],[38,3.9],[39,3.8],[40,4.2],[41,4.1],[42,4.6],[43,4.4],[44,4.7],[45,4.5],[46,4.8],[47,5.0],[48,5.2],[49,4.8],[50,4.9],[51,4.3],[52,4.5],[53,4.2],[54,4.4],[55,3.7],[56,3.1],[57,3.6],[58,3.5],[59,3.2],[60,3.0],[61,3.05],[62,3.1],[63,3.0],[64,3.0],[65,3.05],[66,3.1],[67,3.0],[68,3.0],[69,3.05],[70,3.05],[71,3.0],[72,3.0],[73,2.7],[74,2.4],[75,1.65],[76,1.6],[77,1.7],[78,2.3],[79,2.6],[80,2.85],[81,2.95],[82,3.0],[83,3.1],[84,3.25],[85,2.8],[86,3.1],[87,3.0],[88,2.95],[89,2.9],[90,2.85],[91,2.85],[93,2.8],[94,2.7],[96,2.6],[97,2.55],[99,2.5],[100,2.45],[101,2.35],[102,2.3],[103,2.3],[104,1.9],[105,1.95],[106,2.2],[107,2.55],[108,2.6],[109,2.55],[110,2.5],[111,2.45],[112,2.4],[113,2.3],[114,2.25],[115,2.2],[116,2.2],[117,2.3],[118,2.35],[119,2.4],[120,2.45],[121,2.35],[122,2.2],[123,2.15],[124,2.1],[125,2.05],[126,2.0],[127,1.95],[128,1.9],[129,1.95]];

// ---------------- helpers ----------------
const AXIS_GRAY = "#bfbfbf";
const LABEL_COLOR = "#404040";

function xValueAxis(min: number, max: number, ticks: number[], rotate: number, fmt: (v: number) => string) {
  return {
    type: "value", min, max,
    axisLine: { show: true, onZero: false, lineStyle: { color: AXIS_GRAY, width: 1 } },
    axisTick: { show: true, customValues: ticks, length: 3, lineStyle: { color: AXIS_GRAY } },
    axisLabel: { customValues: ticks, formatter: fmt, rotate, fontSize: 10, color: LABEL_COLOR, margin: 4, fontFamily: FONT },
    splitLine: { show: false },
  };
}
function yValueAxis(min: number, max: number, interval: number, fmt: (v: number) => string, extra: any = {}) {
  return {
    type: "value", min, max, interval,
    axisLine: { show: true, lineStyle: { color: AXIS_GRAY, width: 1 } },
    axisTick: { show: false },
    axisLabel: { formatter: fmt, fontSize: 9.5, color: LABEL_COLOR, margin: 8, fontFamily: FONT },
    splitLine: { show: true, lineStyle: { color: "#e4e4e4", width: 0.7 } },
    ...extra,
  };
}
function line(name: string, data: number[][], color: string, width: number, extra: any = {}) {
  return { name, type: "line", data, color, symbol: "none", showSymbol: false, lineStyle: { color, width }, itemStyle: { color }, ...extra };
}
function legends(items: { name: string; left: number }[], top: number) {
  return items.map((it) => ({
    data: [it.name], left: it.left, top, padding: 0, icon: "rect", itemWidth: 18, itemHeight: 2, itemGap: 0,
    selectedMode: false,
    textStyle: { fontSize: 9, color: "#262626", fontWeight: "bold", fontFamily: FONT, padding: [0, 0, 0, 1] },
  }));
}
function unitText(text: string, left: number, top: number) {
  return { type: "text", left, top, silent: true, style: { text, fontSize: 8.5, fill: "#7f7f7f", fontFamily: FONT } };
}
function build(grid: any, xAxis: any, yAxis: any, series: any[], legend: any[], graphic: any[]) {
  return { animation: false, textStyle: { fontFamily: FONT }, grid: { ...grid, outerBoundsMode: "none" }, xAxis, yAxis, series, legend, graphic };
}
const f2 = (v: number) => v.toFixed(2);
const ym01 = (v: number) => `${v}-01`;

const option1 = build(
  { left: 35.3, top: 19.7, right: 12, bottom: 42.7 },
  xValueAxis(2005, 2024.75, YEARS_05, 90, ym01),
  yValueAxis(0, 8, 1, f2),
  [line("R007", r007, "#4F93CB", 0.9), line("7天逆回购利率", revRepo7d, ORANGE, 1.7, { step: "end", z: 3 })],
  legends([{ name: "7天逆回购利率", left: 84 }, { name: "R007", left: 210 }], 5),
  [unitText("%", 14, 3)],
);
const option2 = build(
  { left: 39, top: 17, right: 21.3, bottom: 40.3 },
  xValueAxis(2015, 2024.73, YEARS_15, 45, ym01),
  yValueAxis(0, 1, 0.1, f2),
  [line("R007-DR007_MA10", r007MinusDr007, "#F5A020", 1.4)],
  legends([{ name: "R007-DR007_MA10", left: 115 }], 4),
  [unitText("%", 20, 1)],
);
const option6 = build(
  { left: 35.3, top: 18, right: 15, bottom: 45 },
  xValueAxis(2002, 2024.67, YEARS_02, 90, ym01),
  yValueAxis(0, 6, 1, f2),
  [line("R001_MA20", r001Ma20, "#3D87C1", 1.1), line("10年国债", cgb10y_6, ORANGE, 1.9, { z: 3 })],
  legends([{ name: "10年国债", left: 99 }, { name: "R001_MA20", left: 165 }], 2),
  [unitText("%", 31, 1)],
);
const option7 = build(
  { left: 39.3, top: 18.3, right: 20.3, bottom: 42 },
  xValueAxis(2012, 2024.78, YEARS_12, 45, ym01),
  yValueAxis(1, 5, 0.5, f2),
  [
    line("工行1年定期", icbc1y, "#3A7DB6", 1.3, { step: "end" }),
    line("工行3年定期", icbc3y, "#8DB82A", 1.3, { step: "end" }),
    line("10Y国债", cgb10y_7, ORANGE, 1.7, { z: 3 }),
  ],
  legends([{ name: "10Y国债", left: 58 }, { name: "工行1年定期", left: 128 }, { name: "工行3年定期", left: 213 }], 3),
  [unitText("%", 20, 2)],
);
const option8 = build(
  { left: 33, top: 23, right: 38.3, bottom: 43.3 },
  xValueAxis(2006, 2024.72, YEARS_06, 90, ym01),
  [
    yValueAxis(0, 100, 10, (v: number) => String(v)),
    yValueAxis(2, 5, 0.5, f2, { position: "right", splitLine: { show: false }, axisLine: { show: false }, axisLabel: { formatter: f2, fontSize: 9.5, color: LABEL_COLOR, margin: 3, fontFamily: FONT } }),
  ],
  [line("国债：30Y-10Y", spread30y10y, "#1FA8E4", 1.5), line("10Y国债(右)", cgb10y_8, "#F08C26", 1.5, { yAxisIndex: 1, z: 3 })],
  legends([{ name: "国债：30Y-10Y", left: 74 }, { name: "10Y国债(右)", left: 195 }], 3),
  [unitText("bp", 19, 4), unitText("%", 301, 5)],
);
const option9 = build(
  { left: 39, top: 19.7, right: 21.3, bottom: 41 },
  xValueAxis(0, 129, MONTHS_9, 45, (v: number) => `${2013 + v / 12}-12`),
  yValueAxis(0, 7, 1, f2),
  [line("1Y同业存单(AAA)", ncd1y_9, "#9DC133", 1.4), line("10Y国债", cgb10y_9, "#3A86C3", 1.4), line("30Y国债", cgb30y_9, "#F59A23", 1.5)],
  legends([{ name: "30Y国债", left: 60 }, { name: "10Y国债", left: 124 }, { name: "1Y同业存单(AAA)", left: 188 }], 3),
  [unitText("%", 20, 2)],
);

function EChart({ option, left, top, width, height }: any) {
  const ref = useRef<HTMLDivElement>(null);
  useEffect(() => {
    const chart = echarts.init(ref.current as HTMLDivElement, null, { renderer: "svg" });
    chart.setOption(option);
    return () => chart.dispose();
  }, [option]);
  return <div ref={ref} style={{ position: "absolute", left, top, width, height }} />;
}

function T({ x, y, size, children, color = "#333", weight = 400, lh }: any) {
  const h = lh || Math.round(size * 1.4);
  return (
    <div style={{ position: "absolute", left: x, top: y - h / 2, height: h, lineHeight: `${h}px`, fontSize: size, color, fontWeight: weight, whiteSpace: "nowrap", fontFamily: FONT }}>
      {children}
    </div>
  );
}
function HL({ x, y, w, h = 1, color = LINE_ORANGE }: any) {
  return <div style={{ position: "absolute", left: x, top: y, width: w, height: h, background: color }} />;
}

const SOURCE = "资料来源：Wind，天风证券研究所";

export default function App() {
  return (
    <div style={{ position: "absolute", left: 0, top: 0, width: 802, height: 1133, background: "#fff", overflow: "hidden", fontFamily: FONT }}>
      {/* header */}
      <T x={63} y={57} size={12.5} color="#3a3a3a">固定收益<span style={{ margin: "0 4px", color: "#777" }}>|</span>固定收益专题</T>
      <HL x={63} y={68} w={674} h={1.6} color="#EE8A1E" />
      <svg style={{ position: "absolute", left: 626, top: 24, width: 44, height: 46 }} viewBox="0 0 44 46">
        <ellipse cx="20" cy="11" rx="2.8" ry="5.5" fill="#B3243C" transform="rotate(15 20 11)" />
        <ellipse cx="11" cy="16" rx="3.4" ry="6" fill="#4D4D4D" transform="rotate(-50 11 16)" />
        <ellipse cx="30" cy="22" rx="5" ry="9" fill="#F39A1E" transform="rotate(35 30 22)" />
        <circle cx="10.5" cy="25.5" r="3" fill="#F39A1E" />
        <ellipse cx="15" cy="34.5" rx="4.8" ry="7" fill="#4D4D4D" transform="rotate(20 15 34.5)" />
        <ellipse cx="24" cy="32.5" rx="3.8" ry="7" fill="#B3243C" transform="rotate(-25 24 32.5)" />
      </svg>
      <T x={671} y={45} size={13.5} color="#262626" weight={700}>天风证券</T>
      <T x={672} y={62} size={5.6} color="#262626" weight={700}>TF SECURITIES</T>

      {/* top panels (figures 4/5 continued) */}
      <HL x={58} y={78} w={328} />
      <HL x={400} y={78} w={331} />
      <EChart option={option1} left={58} top={82} width={332} height={204} />
      <EChart option={option2} left={400} top={82} width={332} height={206} />
      <HL x={58} y={286} w={328} />
      <HL x={400} y={286} w={331} />
      <T x={63} y={298} size={9} color="#595959">{SOURCE}</T>
      <T x={410} y={298} size={9} color="#595959">{SOURCE}</T>

      <T x={212} y={328} size={13}>截至 9 月 20 日，10Y 国债与 R001 差值约 2.56bp。存款利率与银行息差均创历史新低。</T>

      {/* figures 6 / 7 */}
      <T x={66} y={360} size={12} weight={700} color="#333">图 6：资金利率和国债利率</T>
      <T x={410} y={360} size={12} weight={700} color="#333">图 7：存款利率和国债利率</T>
      <HL x={58} y={370} w={328} h={1.3} />
      <HL x={400} y={370} w={331} h={1.3} />
      <EChart option={option6} left={58} top={376} width={332} height={204} />
      <EChart option={option7} left={400} top={376} width={332} height={206} />
      <HL x={58} y={581} w={328} />
      <HL x={400} y={581} w={331} />
      <T x={63} y={592} size={9} color="#595959">{SOURCE}</T>
      <T x={410} y={592} size={9} color="#595959">{SOURCE}</T>

      <T x={212} y={622} size={13}>截至 9 月 20 日，30Y-10Y 国债利差为 10.69bp，30Y、10Y 国债与 1Y 同业存单均来到了</T>
      <T x={212} y={643} size={13}>2%附近的位置，收益率曲线更趋平坦。</T>

      {/* figures 8 / 9 */}
      <T x={66} y={670} size={12} weight={700} color="#333">图 8：期限利差行至低位</T>
      <T x={410} y={670} size={12} weight={700} color="#333">图 9：国债与同业存单</T>
      <HL x={58} y={681} w={328} h={1.3} />
      <HL x={400} y={681} w={331} h={1.3} />
      <EChart option={option8} left={58} top={686} width={332} height={204} />
      <EChart option={option9} left={400} top={686} width={332} height={206} />
      <HL x={58} y={891} w={328} />
      <HL x={400} y={891} w={331} />
      <T x={63} y={901} size={9} color="#595959">{SOURCE}</T>
      <T x={410} y={901} size={9} color="#595959">{SOURCE}</T>

      <T x={212} y={935} size={13}>无论相对还是绝对，债市目前赔率似乎不算好，海外是否有类似情况？</T>
      <T x={211} y={999} size={19} color="#EE8A1E" weight={500}>2. 对比美日低利率情形</T>
      <T x={211} y={1031} size={17} color="#EE8A1E" weight={500}>2.1. 长端利率及期限利差</T>
      <T x={212} y={1062} size={13}>对比中美日 30Y 国债，30Y 美债在 2020 年 3 月创下最低值 0.99%，30Y 日债在 2016 年 7</T>

      <HL x={62} y={1087} w={675} h={2} color="#EE9A2E" />
      <T x={102} y={1106} size={12} color="#333">请务必阅读正文之后的信息披露和免责申明</T>
      <T x={731} y={1106} size={12} color="#333">5</T>
    </div>
  );
}
